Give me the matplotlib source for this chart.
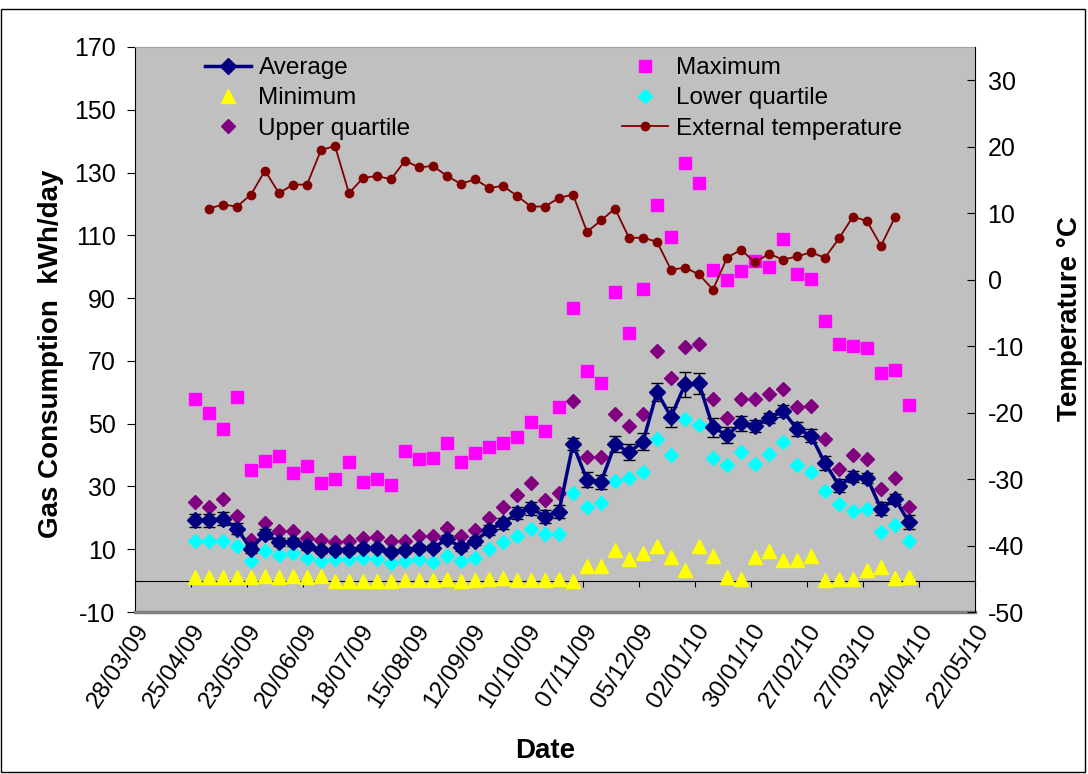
import numpy as np
import pandas as pd
import matplotlib
matplotlib.use("Agg")
import matplotlib.pyplot as plt
import matplotlib.dates as mdates
from matplotlib.ticker import FixedLocator
from matplotlib.patches import Rectangle

plt.rcParams['font.family'] = ['Liberation Sans', 'DejaVu Sans']
plt.rcParams['axes.unicode_minus'] = False

# weekly readings, first week starting 27/04/09
weeks = pd.date_range('2009-04-27', periods=52, freq='7D')

average = [19.2, 19.2, 19.7, 16.5, 10.1, 14.9, 12.3, 12.3, 10.9, 9.8, 9.8, 9.8, 10.4, 10.4, 9.1, 9.8, 10.4, 10.4, 13.2,
           10.7, 12.5, 16.2, 18.3, 21.5, 23.1, 20.4, 22.0,
           43.5, 32.1, 31.4, 43.5, 40.9, 44.3, 60.1, 52.2, 62.5, 62.8,
           48.8, 46.4, 50.1, 49.2, 51.7, 54.0, 48.3, 46.2, 37.4, 30.3, 33.1, 32.8, 22.9, 26.0, 18.6]
average_err = [2.1, 2.1, 2.0, 1.8, 1.3, 1.5, 1.3, 1.2, 1.1, 1.0, 1.0, 1.0, 1.1, 1.1, 1.0, 1.0, 1.1, 1.1, 1.3,
               1.2, 1.3, 1.6, 1.8, 2.0, 2.1, 2.0, 2.1,
               2.0, 2.4, 2.3, 2.5, 2.5, 2.6, 2.8, 3.2, 4.1, 3.3,
               3.1, 2.6, 2.4, 2.0, 1.6, 1.8, 2.2, 2.0, 2.2, 2.1, 1.8, 1.6, 2.1, 1.7, 2.2]
maximum = [58.0, 53.3, 48.3, 58.5, 35.3, 38.1, 39.8, 34.4, 36.5, 31.2, 32.4, 37.9, 31.4, 32.4, 30.5, 41.4, 38.8, 39.2, 43.7,
           37.9, 40.6, 42.5, 43.7, 45.6, 50.5, 47.7, 55.4,
           86.8, 66.8, 63.1, 91.9, 79.0, 92.8, 119.7, 109.4, 133.2, 126.8,
           99.1, 95.9, 98.5, 101.7, 99.9, 108.7, 97.8, 96.0, 82.6, 75.3, 74.7, 74.2, 66.2, 67.2, 55.9]
minimum = [1.2, 1.2, 1.2, 1.2, 1.2, 1.6, 1.2, 1.4, 1.2, 1.4, 0.0, 0.0, 0.0, 0.0, 0.0, 0.3, 0.3, 0.1, 0.5,
           0.0, 0.3, 0.5, 0.7, 0.1, 0.3, 0.3, 0.5,
           0.0, 4.6, 4.6, 9.6, 6.9, 8.8, 11.1, 7.4, 3.3, 11.1,
           7.7, 1.2, 0.5, 7.4, 9.3, 6.7, 6.7, 7.9, 0.1, 0.5, 0.5, 3.3, 4.4, 0.9, 1.2]
upper_quartile = [25.2, 23.6, 26.0, 20.6, 12.8, 18.5, 15.9, 15.7, 13.5, 12.8, 12.3, 12.5, 13.5, 13.9, 12.5, 12.5, 14.1, 14.1, 16.9,
                  14.1, 16.2, 19.9, 23.3, 27.2, 31.0, 25.7, 27.9,
                  57.2, 39.3, 39.3, 53.0, 49.2, 53.0, 73.2, 64.6, 74.4, 75.3,
                  57.7, 51.9, 57.7, 58.0, 59.3, 61.2, 55.4, 55.6, 45.0, 35.5, 40.0, 38.8, 29.1, 32.6, 23.4]
lower_quartile = [12.7, 12.7, 12.7, 10.9, 6.4, 9.3, 8.3, 8.8, 7.2, 6.4, 6.9, 6.9, 7.2, 6.9, 5.6, 6.4, 6.9, 5.9, 7.7,
                  6.4, 7.2, 10.2, 12.2, 14.3, 16.4, 14.9, 14.9,
                  27.9, 23.6, 24.7, 31.8, 32.8, 34.7, 45.0, 40.0, 51.4, 49.6,
                  39.2, 36.8, 41.1, 37.2, 40.2, 44.3, 36.8, 34.7, 28.7, 24.4, 22.2, 22.9, 15.5, 17.8, 12.5]
# external temperature (no reading in first and last week)
temperature = [np.nan, 10.7, 11.3, 11.0, 12.8, 16.4, 13.0, 14.3, 14.3, 19.5, 20.1, 13.0, 15.3, 15.6, 15.1, 17.9, 16.9, 17.1, 15.6,
               14.4, 15.1, 13.8, 14.1, 12.6, 11.0, 11.0, 12.3, 12.8, 7.2, 8.9, 10.7, 6.3, 6.3, 5.7, 1.5, 1.8, 0.8, -1.5, 3.3, 4.5, 2.6,
               3.9, 3.0, 3.5, 4.1, 3.3, 6.2, 9.5, 8.8, 5.1, 9.4, np.nan]

tick_dates = pd.date_range('2009-03-28', '2010-05-22', freq='28D')
left_ticks = np.arange(-10, 171, 20)
grid_levels = [10, 30, 50, 70, 90, 110, 130]
right_ticks = np.arange(-50, 31, 10)


def main():
    x = mdates.date2num(weeks.to_pydatetime())
    xt = mdates.date2num(tick_dates.to_pydatetime())
    xt_labels = [d.strftime('%d/%m/%y') for d in tick_dates]

    fig = plt.figure(figsize=(10.88, 7.74), dpi=100)
    ax = fig.add_axes([135 / 1088, 1 - 612 / 774, 840 / 1088, 565 / 774])
    ax.set_facecolor('#C0C0C0')

    h_max, = ax.plot(x, maximum, 's', color='#FF00FF', ms=9, mec='#FF00FF', label='Maximum')
    h_min, = ax.plot(x, minimum, '^', color='#FFFF00', ms=10, mec='#FFFF00', label='Minimum')
    h_upq, = ax.plot(x, upper_quartile, 'D', color='#800080', ms=7.5, mec='#800080', label='Upper quartile')
    h_lowq, = ax.plot(x, lower_quartile, 'D', color='#00FFFF', ms=7.5, mec='#00FFFF', label='Lower quartile')
    ax.errorbar(x, average, yerr=average_err, fmt='none', ecolor='black', elinewidth=1, capsize=4, capthick=1)
    h_avg, = ax.plot(x, average, '-D', color='#000080', lw=2.5, ms=8, label='Average')

    ax.set_xlim(xt[0], xt[-1])
    ax.set_ylim(-10, 170)
    ax.set_yticks(left_ticks)
    ax.yaxis.set_minor_locator(FixedLocator(grid_levels))
    ax.grid(which='minor', axis='y', color='black', lw=1)
    ax.tick_params(axis='y', which='minor', length=0)
    ax.tick_params(axis='y', which='major', direction='out', length=6, labelsize=18, pad=8)
    ax.set_xticks(xt)
    ax.set_xticklabels(xt_labels, rotation=57, ha='right', va='top', rotation_mode='anchor')
    ax.tick_params(axis='x', length=0, labelsize=17.5, pad=6)

    # category axis crosses at zero
    y0, y1 = ax.get_ylim()
    sec = ax.secondary_xaxis((0 - y0) / (y1 - y0))
    sec.set_xticks(xt)
    sec.tick_params(direction='out', length=4, labelbottom=False, labeltop=False)
    sec.spines['bottom'].set_color('black')

    ax.spines['top'].set_color('#A0A0A0')
    ax.spines['bottom'].set_color('#808080')
    ax.spines['bottom'].set_linewidth(2.5)
    ax.spines['right'].set_visible(False)
    ax.spines['left'].set_color('black')

    ax2 = ax.twinx()
    h_temp, = ax2.plot(x, temperature, '-o', color='#800000', lw=1.3, ms=6, label='External temperature')
    ax2.set_ylim(-50, 35)
    ax2.set_yticks(right_ticks)
    ax2.tick_params(axis='y', direction='in', length=6, labelsize=18, pad=9)
    for s in ['top', 'bottom', 'left']:
        ax2.spines[s].set_visible(False)
    ax2.spines['right'].set_color('black')

    ax.set_ylabel('Gas Consumption  kWh/day', fontsize=20, fontweight='bold')
    ax.yaxis.set_label_coords(-0.085, 0.457)
    ax2.set_ylabel('Temperature °C', fontsize=20, fontweight='bold')
    ax2.yaxis.set_label_coords(1.0976, 0.519)
    ax.set_xlabel('Date', fontsize=20, fontweight='bold')
    ax.xaxis.set_label_coords(0.488, -0.223)

    handles = [h_avg, h_min, h_upq, h_max, h_lowq, h_temp]
    ax.legend(handles, [h.get_label() for h in handles], ncol=2, loc='upper left',
              bbox_to_anchor=(205 / 1088, 1 - 57 / 774), bbox_transform=fig.transFigure,
              frameon=False, fontsize=17.5, handlelength=1.9, handletextpad=0.3,
              columnspacing=8.7, labelspacing=0.34, borderpad=0, borderaxespad=0)

    fig.add_artist(Rectangle((0.001, 0.002), 0.996, 0.986, transform=fig.transFigure,
                             fill=False, edgecolor='black', lw=1))

    fig.savefig('out.png', dpi=100)


if __name__ == "__main__":
    main()
